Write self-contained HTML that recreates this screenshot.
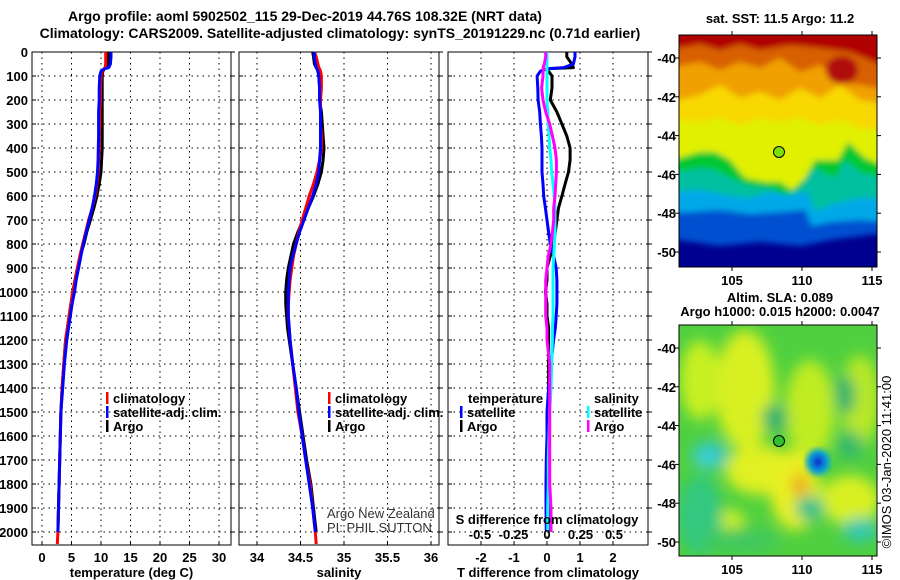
<!DOCTYPE html>
<html><head><meta charset="utf-8"><style>
html,body{margin:0;padding:0;background:#fff;}
svg{display:block;font-family:"Liberation Sans",sans-serif;}
.b{font-weight:bold;font-size:13px;}
.t{font-weight:bold;font-size:14px;}
</style></head><body>
<svg id="s" width="900" height="580" viewBox="0 0 900 580">
<defs>
<filter id="bl" x="-10%" y="-10%" width="120%" height="120%"><feGaussianBlur stdDeviation="3"/></filter>
<filter id="bl2" x="-20%" y="-20%" width="140%" height="140%"><feGaussianBlur stdDeviation="7"/></filter>
<clipPath id="c1"><rect x="679" y="35" width="198" height="232"/></clipPath>
<clipPath id="c2"><rect x="679" y="325" width="198" height="231"/></clipPath>
</defs>
<text class="t" x="305" y="21" text-anchor="middle">Argo profile: aoml 5902502_115 29-Dec-2019 44.76S 108.32E (NRT data)</text>
<text class="t" x="340" y="38" text-anchor="middle">Climatology: CARS2009. Satellite-adjusted climatology: synTS_20191229.nc (0.71d earlier)</text>

<!-- SST map -->
<g clip-path="url(#c1)">
<rect x="679" y="35" width="198" height="232" fill="#000090"/>
<g filter="url(#bl)">
<polygon fill="#0050d0" points="670,30 890,30 890,232 860,236 830,240 800,246 760,242 720,246 679,240 670,240"/>
<polygon fill="#00a8e8" points="670,30 890,30 890,222 860,220 830,222 812,226 805,210 780,212 750,214 720,210 690,212 670,212"/>
<polygon fill="#00c0a0" points="670,30 890,30 890,200 860,198 830,205 815,212 808,192 790,195 770,192 750,198 730,196 700,190 670,192"/>
<polygon fill="#00c830" points="670,30 890,30 890,180 860,172 845,160 835,178 815,168 800,188 785,195 770,188 750,186 735,180 715,170 700,168 679,172 670,172"/>
<polygon fill="#e0f000" points="670,30 890,30 890,168 865,158 848,142 838,160 815,160 805,178 792,190 780,182 765,182 745,178 730,160 715,152 700,152 679,158 670,158"/>
<polygon fill="#f8d800" points="670,30 890,30 890,130 860,128 840,120 820,125 800,118 780,122 760,118 740,125 720,118 700,122 679,120 670,120"/>
<polygon fill="#f0a000" points="670,30 890,30 890,105 860,100 840,85 820,98 800,88 780,100 760,92 740,98 720,85 700,95 679,100 670,100"/>
<polygon fill="#d86000" points="670,30 890,30 890,90 860,85 840,82 820,65 800,72 780,58 760,68 740,62 720,70 700,62 679,66 670,66"/>
<polygon fill="#b00000" points="670,30 890,30 890,70 870,60 850,52 820,48 790,45 760,50 740,44 720,50 700,44 679,48 670,48"/>
<ellipse cx="842" cy="70" rx="16" ry="14" fill="#b00808"/>
</g>
</g>
<rect x="679" y="35" width="198" height="232" fill="none" stroke="#000"/>
<circle cx="779" cy="152" r="5.5" fill="#80e000" stroke="#000"/>
<text class="b" x="780" y="23" text-anchor="middle">sat. SST: 11.5 Argo: 11.2</text>

<!-- SLA map -->
<g clip-path="url(#c2)">
<rect x="679" y="325" width="198" height="231" fill="#50d040"/>
<g filter="url(#bl2)">
<ellipse cx="745" cy="390" rx="30" ry="60" fill="#d8f020"/>
<ellipse cx="700" cy="380" rx="20" ry="40" fill="#c8f020"/>
<ellipse cx="810" cy="410" rx="25" ry="50" fill="#c0ec20"/>
<ellipse cx="860" cy="400" rx="20" ry="45" fill="#b8e828"/>
<ellipse cx="760" cy="470" rx="35" ry="25" fill="#e0f020"/>
<ellipse cx="795" cy="490" rx="25" ry="40" fill="#e8f020"/>
<ellipse cx="850" cy="500" rx="30" ry="25" fill="#d8f020"/>
<ellipse cx="730" cy="520" rx="15" ry="10" fill="#d0f020"/>
<ellipse cx="700" cy="515" rx="22" ry="40" fill="#30c880"/>
<ellipse cx="710" cy="455" rx="18" ry="14" fill="#30c8c0"/>
<ellipse cx="705" cy="460" rx="10" ry="8" fill="#40d0e0"/>
<ellipse cx="775" cy="418" rx="13" ry="14" fill="#20b070"/>
<ellipse cx="845" cy="395" rx="10" ry="20" fill="#20b070"/>
<ellipse cx="850" cy="445" rx="12" ry="14" fill="#30b870"/>
<ellipse cx="810" cy="508" rx="15" ry="12" fill="#30c090"/>
<ellipse cx="860" cy="530" rx="18" ry="12" fill="#30c8b0"/>
<ellipse cx="740" cy="540" rx="40" ry="12" fill="#40c860"/>
<ellipse cx="800" cy="485" rx="8" ry="12" fill="#f0a020"/>
</g>
<g filter="url(#bl)">
<ellipse cx="818" cy="462" rx="12" ry="13" fill="#00a0e0"/>
<ellipse cx="818" cy="462" rx="6" ry="7" fill="#1030d0"/>
</g>
</g>
<rect x="679" y="325" width="198" height="231" fill="none" stroke="#000"/>
<circle cx="779" cy="441" r="5.5" fill="#30c030" stroke="#000"/>
<text class="b" x="780" y="302" text-anchor="middle">Altim. SLA: 0.089</text>
<text class="b" x="780" y="316" text-anchor="middle">Argo h1000: 0.015 h2000: 0.0047</text>
<text x="891" y="462" font-size="13" text-anchor="middle" transform="rotate(-90 891 462)">©IMOS 03-Jan-2020 11:41:00</text>
<g id="maxes"></g>

<g id="p1"></g><g id="p2"></g><g id="p3"></g>

<text x="327" y="518" font-size="13" fill="#333">Argo New Zealand</text>
<text x="327" y="532" font-size="13" fill="#333">PI: PHIL SUTTON</text>
</svg>
<script>
const depths=[0,20,50,65,70,80,100,150,200,250,300,350,400,450,500,550,600,650,700,750,800,850,900,950,1000,1050,1100,1150,1200,1300,1400,1500,1600,1700,1800,1900,2000,2050];
const tempClim=[10.8,10.8,10.8,10.7,10.5,10.2,10.0,9.9,9.9,9.8,9.8,9.7,9.7,9.6,9.5,9.3,9.0,8.5,7.9,7.4,6.9,6.4,6.0,5.6,5.2,4.9,4.6,4.3,4.0,3.7,3.4,3.2,3.1,3.0,2.9,2.8,2.7,2.6];
const tempArgo=[11.2,11.2,11.2,11.0,10.6,10.3,10.2,10.2,10.2,10.2,10.2,10.2,10.2,10.1,10.0,9.7,9.3,8.8,8.2,7.6,7.1,6.5,6.0,5.6,5.2,4.9,4.6,4.3,4.0,3.7,3.4,3.2,3.1,3.0,2.9,2.8,2.7,null];
const tempSat=[11.7,11.7,11.6,11.3,10.6,10.0,9.8,9.7,9.7,9.6,9.6,9.6,9.55,9.5,9.4,9.2,8.9,8.5,8.0,7.5,7.0,6.6,6.2,5.8,5.5,5.1,4.8,4.5,4.2,3.8,3.5,3.2,3.1,3.0,2.9,2.8,2.7,null];
const salClim=[34.66,34.68,34.70,34.71,34.72,34.73,34.74,34.74,34.73,34.73,34.73,34.74,34.74,34.72,34.69,34.65,34.60,34.56,34.52,34.48,34.45,34.42,34.40,34.38,34.37,34.36,34.36,34.37,34.38,34.41,34.44,34.47,34.52,34.56,34.61,34.64,34.67,34.68];
const salArgo=[34.64,34.65,34.66,34.68,34.69,34.70,34.71,34.72,34.72,34.74,34.75,34.76,34.77,34.76,34.74,34.70,34.65,34.59,34.53,34.47,34.42,34.39,34.36,34.34,34.33,34.33,34.34,34.35,34.37,34.41,34.45,34.49,34.53,34.57,34.62,34.65,34.68,null];
const salSat=[34.66,34.66,34.67,34.68,34.69,34.70,34.71,34.72,34.72,34.73,34.73,34.73,34.73,34.72,34.71,34.68,34.64,34.59,34.54,34.49,34.45,34.41,34.38,34.37,34.36,34.36,34.36,34.37,34.38,34.41,34.45,34.48,34.52,34.56,34.60,34.64,34.67,null];
const dTArgo=[0.6,0.6,0.75,0.8,0.0,0.05,0.15,0.15,0.1,0.3,0.45,0.6,0.7,0.7,0.65,0.55,0.45,0.35,0.3,0.25,0.2,0.1,0.0,0.0,-0.05,0.0,0.0,0.05,0.05,0.05,0.05,0.05,0.05,0.05,0.05,0.05,0.05,null];
const dTSat=[0.85,0.85,0.8,0.5,0.0,-0.2,-0.3,-0.28,-0.27,-0.22,-0.2,-0.17,-0.15,-0.15,-0.15,-0.12,-0.1,-0.05,0.0,0.05,0.1,0.2,0.28,0.3,0.3,0.3,0.28,0.25,0.2,0.12,0.05,0.0,0.0,-0.02,-0.03,-0.03,-0.02,null];
const dSSat=[0,0,0,0,0,0,0,0,0,0.005,0.01,0.015,0.02,0.03,0.035,0.045,0.055,0.06,0.06,0.06,0.055,0.05,0.045,0.045,0.045,0.045,0.045,0.04,0.04,0.035,0.03,0.02,0.015,0.01,0.01,0.005,0.005,null];
const dSArgo=[-0.01,-0.01,-0.02,-0.03,-0.02,-0.03,-0.03,-0.04,-0.03,-0.01,0.02,0.04,0.06,0.07,0.07,0.065,0.06,0.05,0.05,0.04,0.03,0.01,0.0,-0.01,-0.01,-0.01,-0.01,0.0,0.0,0.02,0.02,0.02,0.02,0.02,0.02,0.03,0.03,null];
const depthTicks=[0,100,200,300,400,500,600,700,800,900,1000,1100,1200,1300,1400,1500,1600,1700,1800,1900,2000];
const tempTicks=[0,5,10,15,20,25,30];
const salTicks=[34,34.5,35,35.5,36];
const dTTicks=[-2,-1,0,1,2];
const dSTicks=[-0.5,-0.25,0,0.25,0.5];
const lonTicks=[105,110,115];
const latTicks=[-40,-42,-44,-46,-48,-50];

const NS='http://www.w3.org/2000/svg';
function mk(tag,attrs,parent){const e=document.createElementNS(NS,tag);for(const k in attrs)e.setAttribute(k,attrs[k]);parent.appendChild(e);return e;}
const TOP=52,BOT=545;
const yD=d=>TOP+d*0.24;
const xT=v=>42+v*5.9;
const xS=v=>257+(v-34)*87;
const xDT=v=>547+v*33;
const xDS=v=>547+v*134;
function fmt(v){return String(v);}

function panel(gid,name,x0,x1,xf,ticks,title,showDepth){
  const g=document.getElementById(gid);
  
  
  depthTicks.forEach(d=>{
    const l=mk('line',{x1:x0,x2:x1,y1:yD(d),y2:yD(d),stroke:'#000','stroke-dasharray':'1.5,4'},g);
    
    
    mk('line',{x1:x0,x2:x0+4,y1:yD(d),y2:yD(d),stroke:'#000'},g);
    mk('line',{x1:x1,x2:x1+4,y1:yD(d),y2:yD(d),stroke:'#000'},g);
    if(showDepth){const t=mk('text',{x:28,y:yD(d)+5,'text-anchor':'end',class:'b'},g);t.textContent=d;
      
      }
  });
  ticks.forEach(v=>{
    const x=xf(v);
    const l=mk('line',{x1:x,x2:x,y1:TOP,y2:BOT,stroke:'#000','stroke-dasharray':'1.5,4'},g);
    
    
    mk('line',{x1:x,x2:x,y1:BOT,y2:BOT-4,stroke:'#000'},g);
    const t=mk('text',{x:x,y:562,'text-anchor':'middle',class:'b'},g);t.textContent=fmt(v);
    
    
  });
  const f=mk('rect',{x:x0,y:TOP,width:x1-x0,height:BOT-TOP,fill:'none',stroke:'#000'},g);
  
  
  const tt=mk('text',{x:(x0+x1)/2,y:577,'text-anchor':'middle',class:'b'},g);tt.textContent=title;
  
  
  return g;
}
function line(g,vals,xf,color,name,w){
  let pts=[];
  vals.forEach((v,i)=>{if(v!==null)pts.push(xf(v).toFixed(1)+','+yD(depths[i]).toFixed(1));});
  const p=mk('polyline',{points:pts.join(' '),fill:'none',stroke:color,'stroke-width':w||3,'stroke-linejoin':'round'},g);
  
  
}
function legend(g,x,y,color,label,name){
  mk('rect',{x:x,y:y-11,width:2.5,height:12,fill:color},g);
  const t=mk('text',{x:x+7,y:y,class:'b'},g);t.textContent=label;
  
  
}
const g1=panel('p1','temperature-panel',32,231,xT,tempTicks,'temperature (deg C)',true);
line(g1,tempArgo,xT,'#000','temp-argo-line');
line(g1,tempClim,xT,'#f00','temp-climatology-line');
line(g1,tempSat,xT,'#00f','temp-satellite-line');
legend(g1,106,403,'#f00','climatology','legend-climatology');
legend(g1,106,417,'#00f','satellite-adj. clim.','legend-satellite');
legend(g1,106,431,'#000','Argo','legend-argo');

const g2=panel('p2','salinity-panel',239,439,xS,salTicks,'salinity',false);
line(g2,salArgo,xS,'#000','sal-argo-line');
line(g2,salClim,xS,'#f00','sal-climatology-line');
line(g2,salSat,xS,'#00f','sal-satellite-line');
legend(g2,328,403,'#f00','climatology','legend-climatology');
legend(g2,328,417,'#00f','satellite-adj. clim.','legend-satellite');
legend(g2,328,431,'#000','Argo','legend-argo');

const g3=panel('p3','difference-panel',448,648,xDT,dTTicks,'T difference from climatology',false);
line(g3,dTArgo,xDT,'#000','dt-argo-line');
line(g3,dTSat,xDT,'#00f','dt-satellite-line');
line(g3,dSSat,xDS,'#0ff','ds-satellite-line');
line(g3,dSArgo,xDS,'#f0f','ds-argo-line');
let tl=mk('text',{x:468,y:403,class:'b'},g3);tl.textContent='temperature';


let sl=mk('text',{x:594,y:403,class:'b'},g3);sl.textContent='salinity';


legend(g3,460,417,'#00f','satellite','legend-t-satellite');
legend(g3,460,431,'#000','Argo','legend-t-argo');
legend(g3,587,417,'#0ff','satellite','legend-s-satellite');
legend(g3,587,431,'#f0f','Argo','legend-s-argo');
let st=mk('text',{x:547,y:524,'text-anchor':'middle',class:'b'},g3);st.textContent='S difference from climatology';


dSTicks.forEach(v=>{const t=mk('text',{x:xDS(v),y:539,'text-anchor':'middle',class:'b'},g3);t.textContent=fmt(v);
  
  });

const ga=document.getElementById('maxes');


const xLon=v=>732+(v-105)*14;
[[35,267,58],[325,556,348]].forEach(([t,b,y40])=>{
  lonTicks.forEach(v=>{
    mk('line',{x1:xLon(v),x2:xLon(v),y1:t-4,y2:t,stroke:'#000'},ga);
    mk('line',{x1:xLon(v),x2:xLon(v),y1:b,y2:b+4,stroke:'#000'},ga);
    const tx=mk('text',{x:xLon(v),y:b+18,'text-anchor':'middle',class:'b'},ga);tx.textContent=v;
    
    
  });
  latTicks.forEach(v=>{
    const y=y40+(-40-v)*19.4;
    mk('line',{x1:675,x2:679,y1:y,y2:y,stroke:'#000'},ga);
    mk('line',{x1:877,x2:881,y1:y,y2:y,stroke:'#000'},ga);
    const tx=mk('text',{x:676,y:y+5,'text-anchor':'end',class:'b'},ga);tx.textContent=v;
    
    
  });
});
</script>
</body></html>
